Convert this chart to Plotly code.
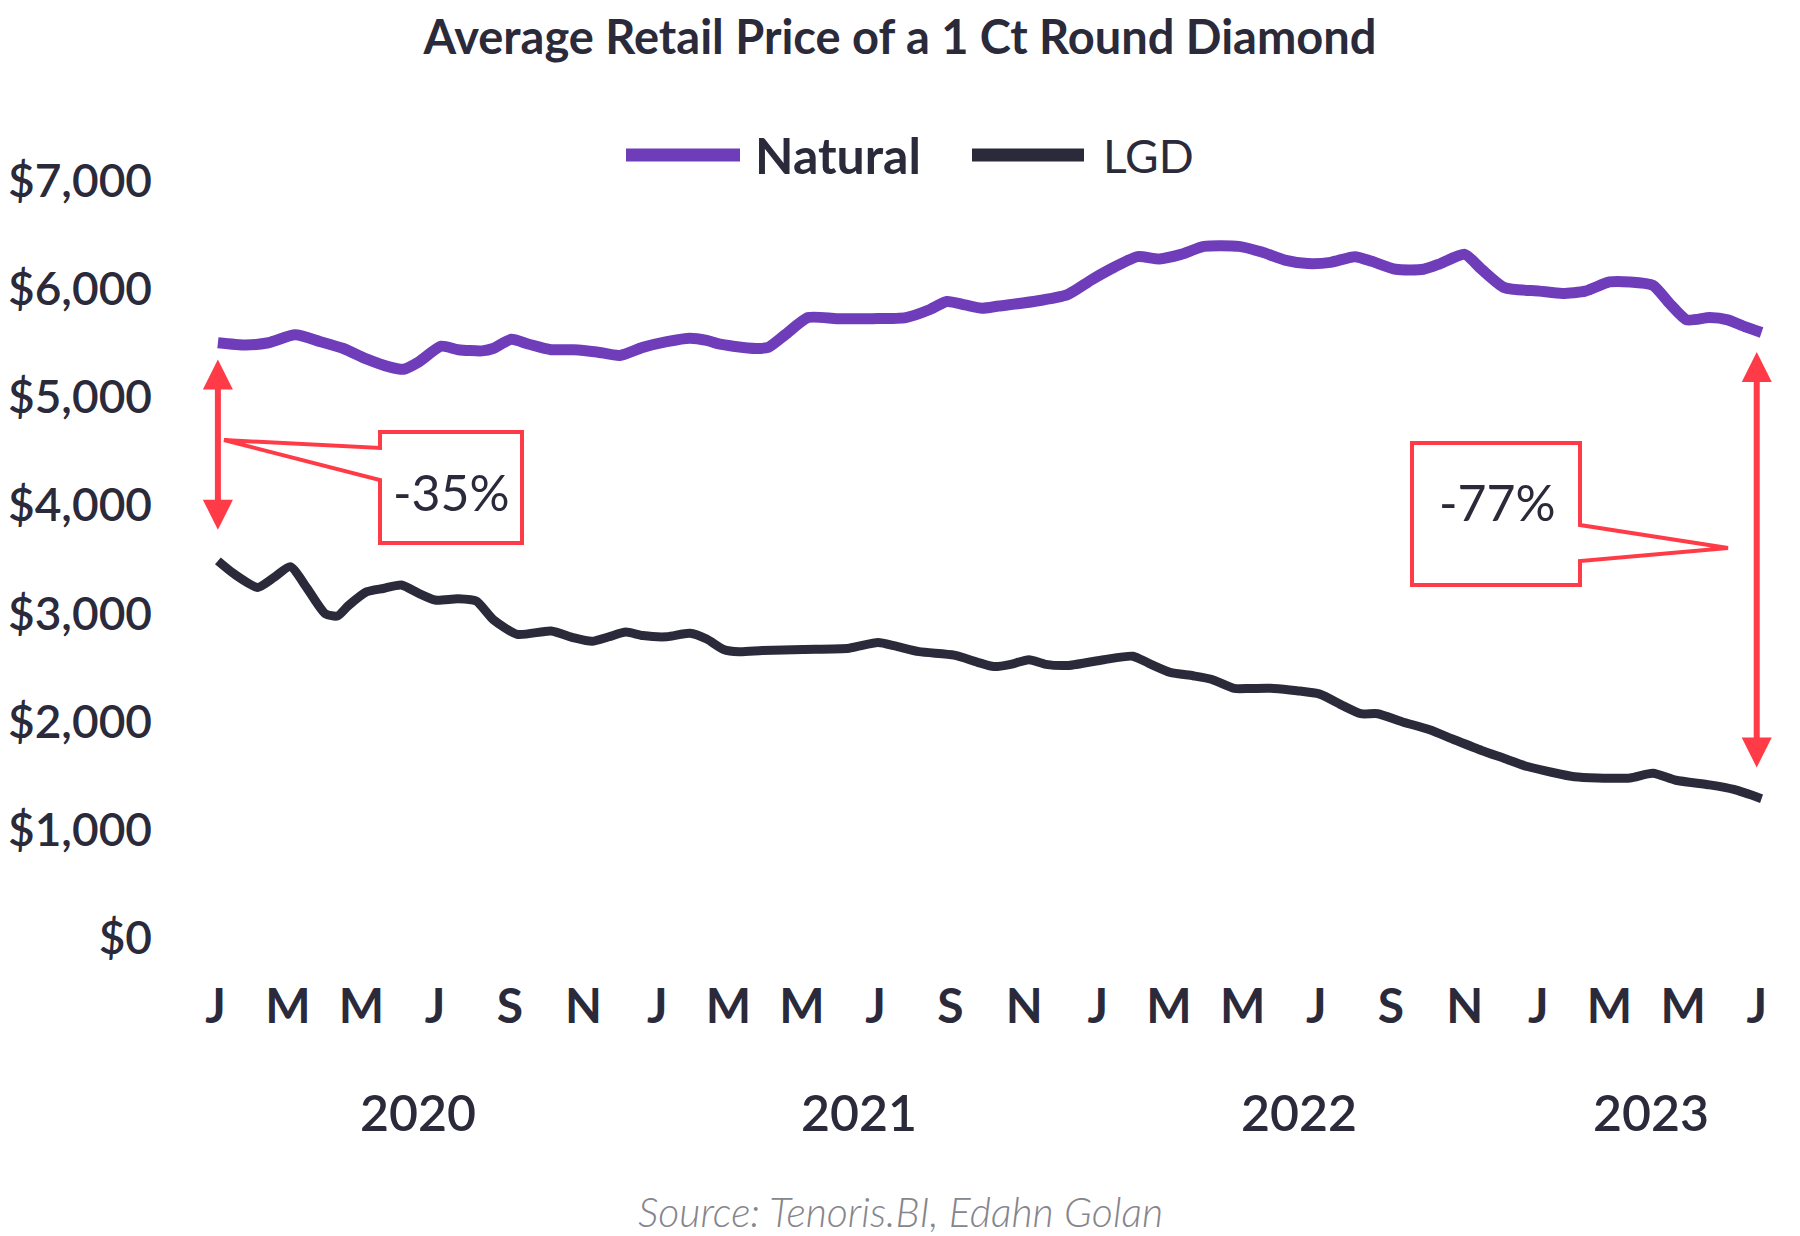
import plotly.graph_objects as go
import pandas as pd

# ---------------- data ----------------
natural_dates = [
    "2020-01-03", "2020-01-26", "2020-02-14", "2020-03-07", "2020-03-28", "2020-04-16",
    "2020-05-05", "2020-05-24", "2020-06-05", "2020-06-17", "2020-07-06", "2020-07-20",
    "2020-08-09", "2020-08-18", "2020-09-02", "2020-09-16", "2020-10-05", "2020-10-24",
    "2020-11-12", "2020-12-01", "2020-12-20", "2021-01-09", "2021-01-28", "2021-02-11",
    "2021-02-21", "2021-03-05", "2021-03-24", "2021-04-03", "2021-04-17", "2021-05-06",
    "2021-05-30", "2021-06-28", "2021-07-26", "2021-08-15", "2021-08-29", "2021-09-13",
    "2021-09-27", "2021-10-11", "2021-11-09", "2021-12-07", "2021-12-27", "2022-01-15",
    "2022-02-03", "2022-02-21", "2022-03-11", "2022-03-30", "2022-04-28", "2022-05-17",
    "2022-06-05", "2022-06-24", "2022-07-13", "2022-08-02", "2022-08-16", "2022-09-05",
    "2022-09-28", "2022-10-12", "2022-11-01", "2022-11-15", "2022-12-04", "2023-01-02",
    "2023-01-21", "2023-02-09", "2023-03-01", "2023-03-18", "2023-04-06", "2023-04-20",
    "2023-05-04", "2023-05-23", "2023-06-07", "2023-06-21", "2023-07-05",
]
natural_values = [
    5505, 5484, 5505, 5579, 5515, 5452,
    5356, 5282, 5260, 5324, 5473, 5441,
    5430, 5452, 5537, 5494, 5441, 5441,
    5420, 5388, 5462, 5515, 5547, 5526,
    5494, 5473, 5452, 5462, 5579, 5738,
    5728, 5728, 5738, 5813, 5887, 5855,
    5824, 5845, 5887, 5951, 6089, 6206,
    6302, 6281, 6323, 6397, 6397, 6344,
    6270, 6238, 6249, 6302, 6259, 6185,
    6185, 6238, 6323, 6185, 6015, 5983,
    5962, 5983, 6068, 6068, 6036, 5866,
    5717, 5738, 5717, 5654, 5600,
]

lgd_dates = [
    "2020-01-03", "2020-01-16", "2020-02-05", "2020-02-19", "2020-03-03", "2020-03-17",
    "2020-04-01", "2020-04-11", "2020-04-20", "2020-05-05", "2020-05-19", "2020-06-03",
    "2020-06-17", "2020-07-01", "2020-07-20", "2020-08-04", "2020-08-18", "2020-09-07",
    "2020-10-05", "2020-10-24", "2020-11-08", "2020-11-22", "2020-12-06", "2020-12-20",
    "2021-01-09", "2021-01-28", "2021-02-11", "2021-02-25", "2021-03-10", "2021-03-29",
    "2021-05-02", "2021-06-09", "2021-07-03", "2021-07-17", "2021-08-06", "2021-09-04",
    "2021-09-23", "2021-10-07", "2021-10-21", "2021-11-05", "2021-11-19", "2021-12-08",
    "2022-01-06", "2022-01-30", "2022-02-12", "2022-03-02", "2022-03-21", "2022-04-05",
    "2022-04-24", "2022-05-08", "2022-05-27", "2022-06-15", "2022-07-04", "2022-07-23",
    "2022-08-07", "2022-08-21", "2022-09-10", "2022-10-03", "2022-10-22", "2022-11-15",
    "2022-12-04", "2022-12-23", "2023-01-12", "2023-01-31", "2023-02-19", "2023-03-18",
    "2023-04-06", "2023-04-25", "2023-05-23", "2023-06-12", "2023-07-05",
]
lgd_values = [
    3486, 3369, 3241, 3337, 3433, 3231,
    2997, 2976, 3071, 3199, 3231, 3263,
    3188, 3124, 3135, 3114, 2944, 2806,
    2837, 2774, 2742, 2784, 2827, 2795,
    2784, 2816, 2763, 2667, 2646, 2657,
    2667, 2678, 2731, 2699, 2646, 2614,
    2550, 2508, 2529, 2572, 2529, 2519,
    2572, 2604, 2540, 2455, 2423, 2391,
    2306, 2306, 2306, 2285, 2253, 2147,
    2072, 2072, 1998, 1923, 1838, 1732,
    1658, 1583, 1530, 1488, 1477, 1477,
    1520, 1456, 1413, 1371, 1286,
]

month_tick_labels = ["J", "M", "M", "J", "S", "N", "J", "M", "M", "J", "S", "N",
                     "J", "M", "M", "J", "S", "N", "J", "M", "M", "J"]
year_labels = ["2020", "2021", "2022", "2023"]
year_label_dates = ["2020-06-17", "2021-06-17", "2022-06-17", "2023-04-04"]
y_ticks = [0, 1000, 2000, 3000, 4000, 5000, 6000, 7000]
y_tick_labels = ["$0", "$1,000", "$2,000", "$3,000", "$4,000", "$5,000", "$6,000", "$7,000"]

series_names = ["Natural", "LGD"]
change_labels = ["-35%", "-77%"]

# ---------------- styling ----------------
PURPLE = "#6f3dba"
DARK = "#2b2a3a"
RED = "#ff3b47"
W, H = 1800, 1236
ML, MR, MT, MB = 201, 30, 138, 266
PW, PH = W - ML - MR, H - MT - MB


def px(x):
    return (x - ML) / PW


def py(y):
    return (H - MB - y) / PH


fig = go.Figure()
fig.add_trace(go.Scatter(x=natural_dates, y=natural_values, mode="lines",
                         name=series_names[0],
                         line=dict(color=PURPLE, width=11, shape="spline", smoothing=0.6),
                         showlegend=False))
fig.add_trace(go.Scatter(x=lgd_dates, y=lgd_values, mode="lines",
                         name=series_names[1],
                         line=dict(color=DARK, width=9, shape="spline", smoothing=0.6),
                         showlegend=False))

tickvals = pd.date_range("2020-01-01", "2023-07-01", freq="2MS")

fig.update_xaxes(range=["2019-12-20", "2023-07-12"], showgrid=False, zeroline=False,
                 showline=False, tickvals=tickvals, ticktext=month_tick_labels,
                 ticks="", ticklabelstandoff=4,
                 tickfont=dict(family="Lato", size=48, color=DARK, weight="bold"))
fig.update_yaxes(range=[-300, 7400], showgrid=False, zeroline=False, showline=False,
                 tickvals=y_ticks, ticktext=y_tick_labels, ticks="",
                 ticklabelstandoff=48,
                 tickfont=dict(family="Lato", size=46, color=DARK, weight=600))

annotations = []
# year labels
for lab, d in zip(year_labels, year_label_dates):
    annotations.append(dict(x=d, y=py(1112), xref="x", yref="paper", text=lab,
                            showarrow=False, xanchor="center", yanchor="middle",
                            font=dict(family="Lato", size=50, color=DARK, weight=600)))

# legend (manual)
shapes = []
shapes.append(dict(type="line", xref="paper", yref="paper", x0=px(626), x1=px(740),
                   y0=py(155), y1=py(155), line=dict(color=PURPLE, width=13)))
shapes.append(dict(type="line", xref="paper", yref="paper", x0=px(972), x1=px(1084),
                   y0=py(155), y1=py(155), line=dict(color=DARK, width=13)))
annotations.append(dict(x=px(753), y=py(155), xref="paper", yref="paper",
                        text="<b>" + series_names[0] + "</b>", showarrow=False,
                        xanchor="left", yanchor="middle",
                        font=dict(family="Lato", size=50, color=DARK)))
annotations.append(dict(x=px(1101), y=py(155), xref="paper", yref="paper",
                        text=series_names[1], showarrow=False,
                        xanchor="left", yanchor="middle",
                        font=dict(family="Lato", size=46, color=DARK)))

# double-headed arrows
for xd, ytop, ybot in [("2020-01-03", 5350, 3760), ("2023-07-01", 5420, 1560)]:
    annotations.append(dict(x=xd, y=ytop, ax=xd, ay=ybot, xref="x", yref="y",
                            axref="x", ayref="y", text="", showarrow=True,
                            arrowhead=2, arrowside="end+start", arrowsize=1.0,
                            arrowwidth=6, arrowcolor=RED))

# callout boxes
left_path = ("M {a},{b} L {c},{d} L {c},{e} L {f},{e} L {f},{g} L {c},{g} L {c},{h} Z"
             .format(a=px(224), b=py(440), c=px(380), d=py(448), e=py(432),
                     f=px(522), g=py(543), h=py(480)))
right_path = ("M {a},{b} L {c},{b} L {c},{d} L {e},{f} L {c},{g} L {c},{h} L {a},{h} Z"
              .format(a=px(1412), b=py(443), c=px(1580), d=py(525), e=px(1728),
                      f=py(548), g=py(561), h=py(585)))
for p in (left_path, right_path):
    shapes.append(dict(type="path", xref="paper", yref="paper", path=p,
                       line=dict(color=RED, width=4), fillcolor="white", layer="above"))

annotations.append(dict(x=px(451), y=py(492), xref="paper", yref="paper",
                        text=change_labels[0], showarrow=False,
                        xanchor="center", yanchor="middle",
                        font=dict(family="Lato", size=50, color=DARK)))
annotations.append(dict(x=px(1497), y=py(502), xref="paper", yref="paper",
                        text=change_labels[1], showarrow=False,
                        xanchor="center", yanchor="middle",
                        font=dict(family="Lato", size=50, color=DARK)))

# source
annotations.append(dict(x=px(900), y=py(1211), xref="paper", yref="paper",
                        text="Source: Tenoris.BI, Edahn Golan", showarrow=False,
                        xanchor="center", yanchor="middle",
                        font=dict(family="Lato", size=41, color="#85858c",
                                  style="italic", weight=300)))

fig.update_layout(
    width=W, height=H,
    margin=dict(l=ML, r=MR, t=MT, b=MB, autoexpand=False),
    paper_bgcolor="white", plot_bgcolor="white",
    title=dict(text="<b>Average Retail Price of a 1 Ct Round Diamond</b>",
               x=0.5, xanchor="center", y=1 - 38 / H, yanchor="middle",
               xref="container", yref="container",
               font=dict(family="Lato", size=47, color=DARK, weight=900)),
    annotations=annotations, shapes=shapes,
)

fig.write_html("out.html", config={"displayModeBar": False},
               post_script="document.body.style.margin='0px';")
